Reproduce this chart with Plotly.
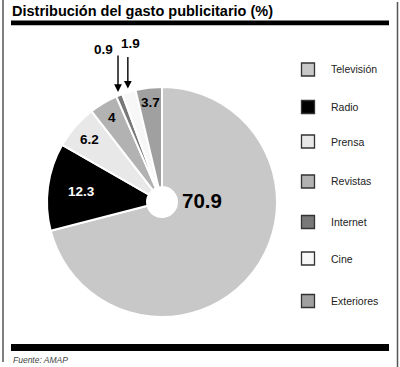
import math
import plotly.graph_objects as go

# ---- data ----
categories = ["Televisión", "Radio", "Prensa", "Revistas", "Internet", "Cine", "Exteriores"]
values = [70.9, 12.3, 6.2, 4, 0.9, 1.9, 3.7]
labels_txt = ["70.9", "12.3", "6.2", "4", "0.9", "1.9", "3.7"]

title = "Distribución del gasto publicitario (%)"
source = "Fuente: AMAP"

# ---- style ----
colors = ["#c8c8c8", "#000000", "#e8e8e8", "#b2b2b2", "#787878", "#f7f7f7", "#a0a0a0"]
W, H = 400, 367
CX, CY, R = 162, 202, 115
HOLE = 0.13

# label placement styles (radial fraction of radius, 'in' or 'arrow')
label_style = {
    "Radio": dict(r=0.71, color="white"),
    "Prensa": dict(r=0.83, color="black"),
    "Revistas": dict(r=0.85, color="black"),
    "Exteriores": dict(r=0.87, color="black"),
}
arrow_style = {
    "Internet": dict(tip_r=1.03, length=38, tdx=-15, tdy=-43),
    "Cine": dict(tip_r=1.03, length=33, tdx=3, tdy=-45),
}
legend_y = [69.5, 107, 141.5, 181.5, 222, 258.5, 301]

def px(x):
    return x / W

def py(y):
    return 1 - y / H

fig = go.Figure()
fig.add_trace(go.Pie(
    labels=categories,
    values=values,
    sort=False,
    direction="clockwise",
    rotation=0,
    hole=HOLE,
    marker=dict(colors=colors, line=dict(color="white", width=2)),
    textinfo="none",
    hoverinfo="label+value",
    showlegend=False,
    domain=dict(x=[px(CX - R), px(CX + R)], y=[py(CY + R), py(CY - R)]),
))

annotations = []
shapes = []

total = sum(values)
cum = 0.0
for cat, v, t in zip(categories, values, labels_txt):
    mid = (cum + v / 2) / total * 2 * math.pi
    cum += v
    sx, sy = math.sin(mid), -math.cos(mid)
    if cat in label_style:
        st = label_style[cat]
        x = CX + sx * R * st["r"]
        y = CY + sy * R * st["r"]
        annotations.append(dict(x=px(x), y=py(y), xref="paper", yref="paper", text=t,
                                showarrow=False, font=dict(family="Liberation Sans", size=13.5,
                                                          color=st["color"]),
                                xanchor="center", yanchor="middle"))
    elif cat in arrow_style:
        st = arrow_style[cat]
        x = CX + sx * R * st["tip_r"]
        y = CY + sy * R * st["tip_r"]
        annotations.append(dict(x=px(x), y=py(y), xref="paper", yref="paper", text="",
                                showarrow=True, ax=0, ay=-st["length"], arrowhead=2,
                                arrowsize=1.1, arrowwidth=1.4, arrowcolor="black"))
        annotations.append(dict(x=px(x + st["tdx"]), y=py(y + st["tdy"]), xref="paper", yref="paper",
                                text=t, showarrow=False,
                                font=dict(family="Liberation Sans", size=13.5, color="black"),
                                xanchor="center", yanchor="middle"))

# big label for Televisión
annotations.append(dict(x=px(CX + 40), y=py(CY - 2), xref="paper", yref="paper",
                        text=labels_txt[0], showarrow=False,
                        font=dict(family="Liberation Sans", size=20.5, color="black"),
                        xanchor="center", yanchor="middle"))

# wrap bold
for a in annotations:
    if a.get("text"):
        a["text"] = "<b>" + a["text"] + "</b>"

# legend (custom)
for cat, col, ly in zip(categories, colors, legend_y):
    shapes.append(dict(type="rect", xref="paper", yref="paper",
                       x0=px(301.5), x1=px(314.5), y0=py(ly + 6.5), y1=py(ly - 6.5),
                       fillcolor=col, line=dict(color="#333333", width=1.3)))
    annotations.append(dict(x=px(329), y=py(ly), xref="paper", yref="paper", text=cat,
                            showarrow=False, xanchor="left", yanchor="middle",
                            font=dict(family="Liberation Sans", size=10.5, color="#222222")))

# title
annotations.append(dict(x=px(10), y=py(1), xref="paper", yref="paper",
                        text="<b>" + title + "</b>", showarrow=False,
                        xanchor="left", yanchor="top",
                        font=dict(family="Liberation Sans", size=14.5, color="black")))
# source
annotations.append(dict(x=px(11), y=py(353), xref="paper", yref="paper",
                        text="<i>" + source + "</i>", showarrow=False,
                        xanchor="left", yanchor="top",
                        font=dict(family="Liberation Sans", size=8.5, color="#444444")))

# bars and frame
shapes.append(dict(type="rect", xref="paper", yref="paper", x0=px(11), x1=px(389),
                   y0=py(25.3), y1=py(20.5), fillcolor="black", line=dict(width=0)))
shapes.append(dict(type="rect", xref="paper", yref="paper", x0=px(11), x1=px(389),
                   y0=py(351), y1=py(344), fillcolor="black", line=dict(width=0)))
shapes.append(dict(type="line", xref="paper", yref="paper", x0=px(3), x1=px(3),
                   y0=py(0), y1=py(362), line=dict(color="#555555", width=1.5)))
shapes.append(dict(type="line", xref="paper", yref="paper", x0=px(397.5), x1=px(397.5),
                   y0=py(2), y1=py(367), line=dict(color="#555555", width=1.5)))

fig.update_layout(
    width=W, height=H,
    margin=dict(l=0, r=0, t=0, b=0),
    paper_bgcolor="white",
    plot_bgcolor="white",
    annotations=annotations,
    shapes=shapes,
    showlegend=False,
)

fig.write_html("out.html")
